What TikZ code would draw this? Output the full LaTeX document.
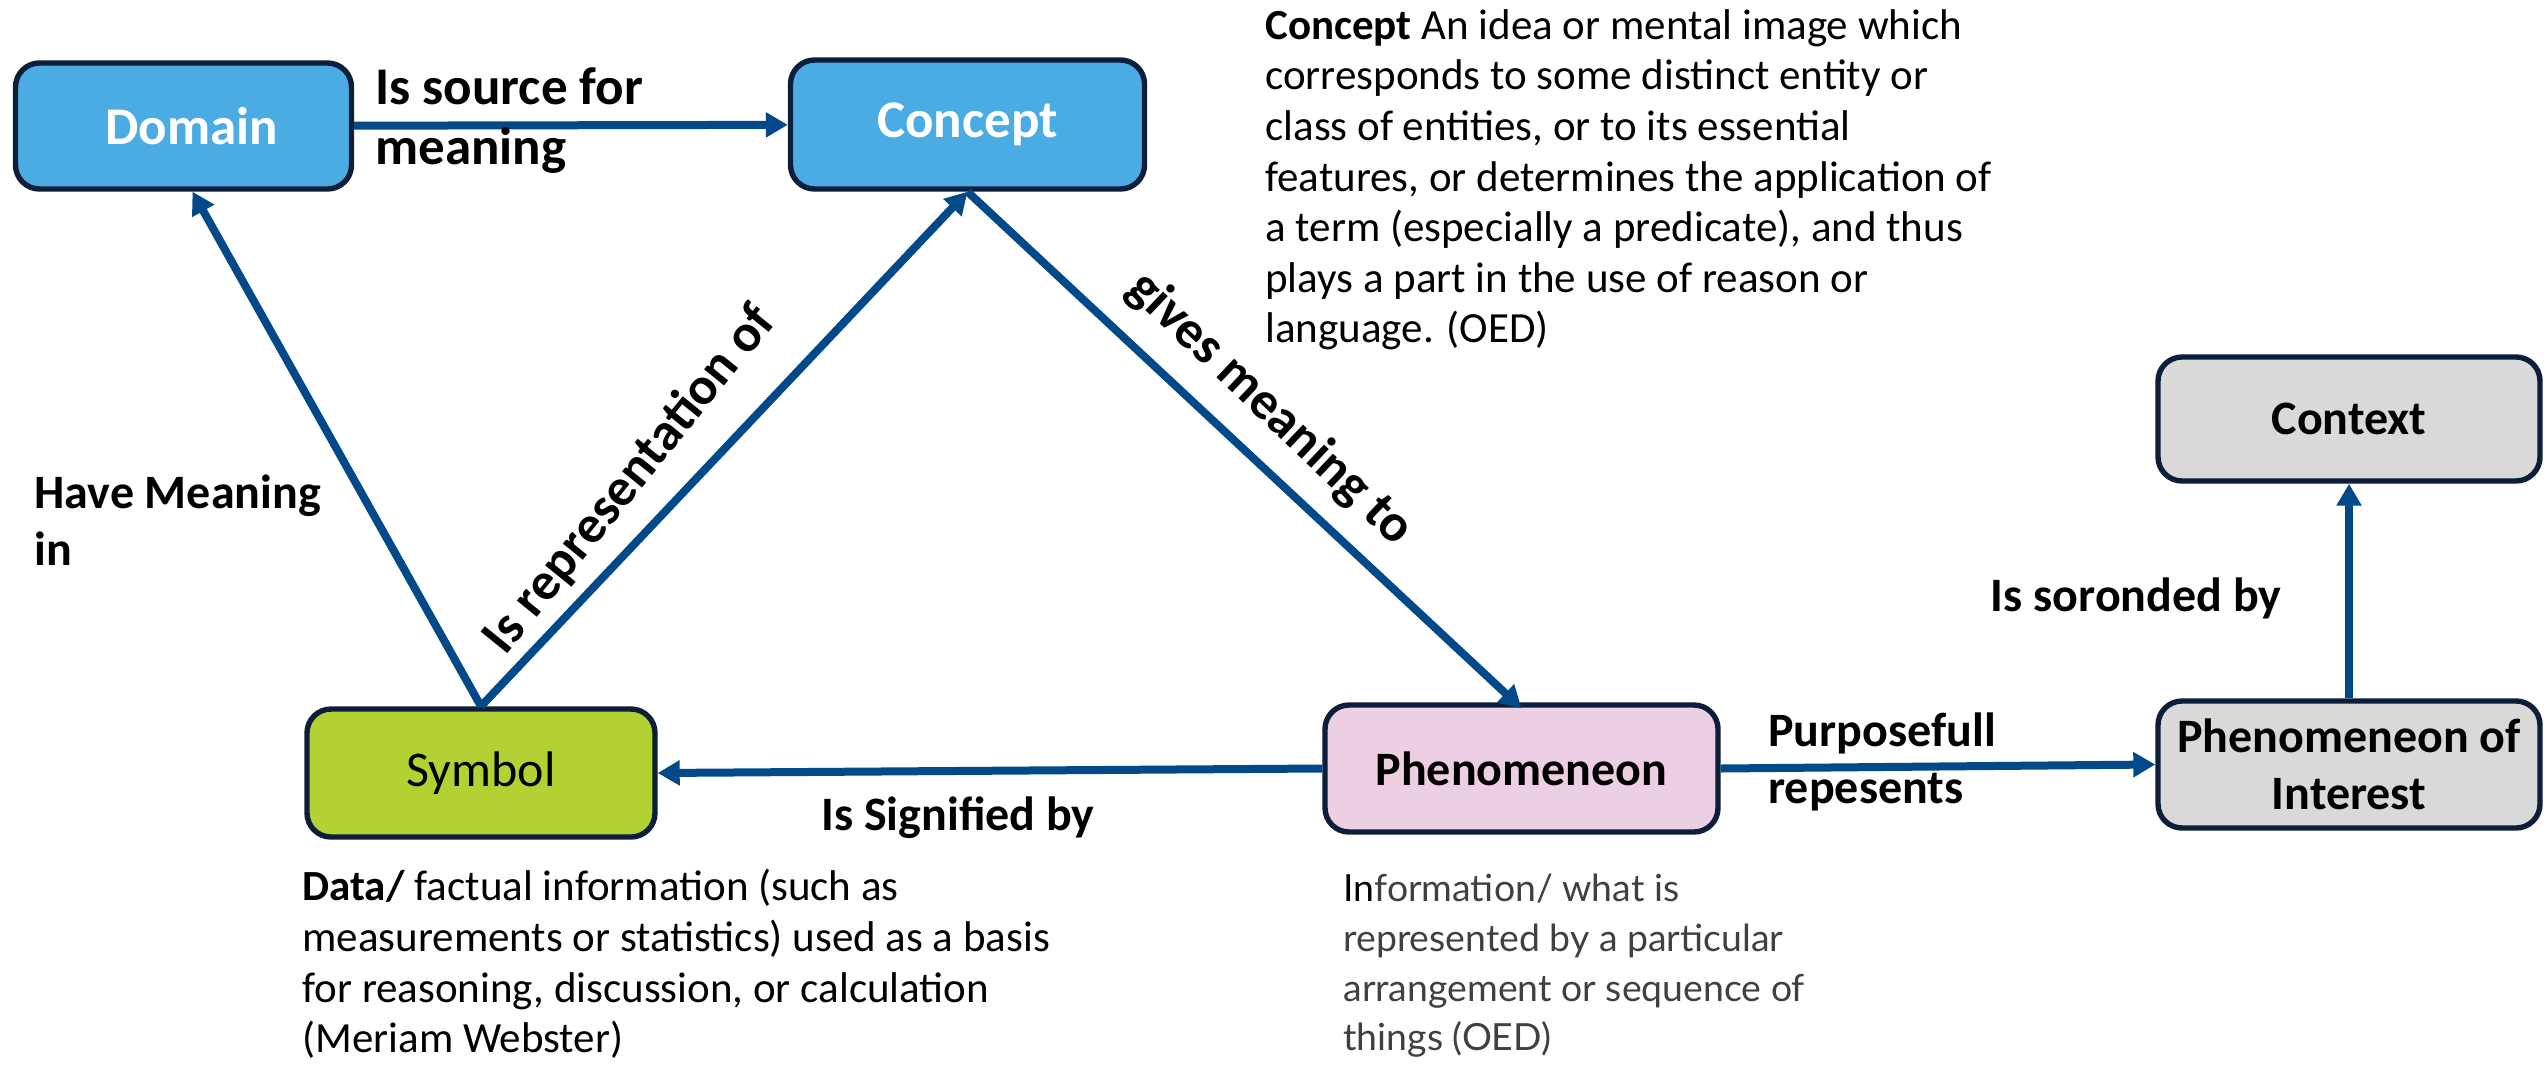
\documentclass[tikz,border=0pt]{standalone}
\usepackage{fontspec}
\setmainfont{Carlito}
\newfontfamily\infofont{Lato}
\usetikzlibrary{arrows.meta}
\definecolor{boxblue}{RGB}{75,172,227}
\definecolor{boxgreen}{RGB}{178,210,51}
\definecolor{boxpink}{RGB}{237,207,227}
\definecolor{boxgray}{RGB}{217,217,217}
\definecolor{bordercol}{RGB}{12,30,58}
\definecolor{arrowcol}{RGB}{2,73,138}
\definecolor{infogray}{RGB}{64,64,64}
\begin{document}
\begin{tikzpicture}[x=0.5pt,y=-0.5pt,
  box/.style={draw=bordercol, line width=2.7pt, rounded corners=12pt, align=center,
    font=\fontsize{24}{28.5}\selectfont\bfseries, inner sep=0pt},
  bigbox/.style={box, font=\fontsize{26.5}{30}\selectfont\bfseries},
  conn/.style={draw=arrowcol, line width=4pt, -{Triangle[length=11pt,width=12pt]}},
  lbl/.style={font=\fontsize{24}{28.5}\selectfont\bfseries, align=left, inner sep=0pt},
  biglbl/.style={font=\fontsize{26.5}{30}\selectfont\bfseries, align=left, inner sep=0pt},
  desc/.style={font=\fontsize{21.5}{25.3}\selectfont, align=left, inner sep=0pt, anchor=north west}]
\useasboundingbox (0,0) rectangle (2547,1066);
% boxes
\node[bigbox, fill=boxblue, text=white, minimum width=168pt, minimum height=63pt] (dom) at (183.5,126) {\hspace*{8pt}Domain};
\node[bigbox, fill=boxblue, text=white, minimum width=177pt, minimum height=64.5pt] (con) at (967.5,124.5) {Concept};
\node[box, fill=boxgreen, font=\fontsize{25}{28.5}\selectfont, minimum width=174pt, minimum height=64pt] (sym) at (481,773) {Symbol};
\node[box, fill=boxpink, minimum width=196.5pt, minimum height=63.5pt] (phe) at (1521.5,768.5) {Phenomeneon};
\node[box, fill=boxgray, minimum width=191pt, minimum height=63.5pt] (poi) at (2349,764.5) {Phenomeneon of\\Interest};
\node[box, fill=boxgray, minimum width=191pt, minimum height=62pt] (ctx) at (2349,419) {Context};
% connectors
\draw[conn] (dom) -- (con);
\draw[conn] (sym.north) -- ([xshift=4.5pt]dom.south);
\draw[conn] (sym.north) -- (con.south);
\draw[conn] (con.south) -- ([yshift=-3pt]phe.north);
\draw[conn] (phe.west) -- (sym.east);
\draw[conn] (phe.east) -- (poi.west);
\draw[conn] (poi) -- (ctx);
% edge labels
\node[biglbl, anchor=west] (l1) at (375,121) {Is source for\\meaning};
\node[lbl, anchor=west] (l2) at (34,520) {Have Meaning\\in};
\node[biglbl, rotate=51] (l3) at (630,480) {Is representation of};
\node[biglbl, rotate=-43.5] (l4) at (1270,409) {gives meaning to};
\node[lbl] (l5) at (958,818) {Is Signified by};
\node[lbl, anchor=west] (l6) at (1768,762) {Purposefull\\repesents};
\node[lbl] (l7) at (2136,598) {Is soronded by};
% descriptions
\node[desc] (d1) at (1265,9) {\textbf{Concept} An idea or mental image which\\
corresponds to some distinct entity or\\
class of entities, or to its essential\\
features, or determines the application of\\
a term (especially a predicate), and thus\\
plays a part in the use of reason or\\
language. (OED)};
\node[desc] (d2) at (302,869) {\textbf{Data/} factual information (such as\\
measurements or statistics) used as a basis\\
for reasoning, discussion, or calculation\\
(Meriam Webster)};
\node[desc, font=\fontsize{18.7}{24.8}\selectfont\infofont, text=infogray] (d3) at (1343,874) {\textcolor{black}{In}formation/ what is\\
represented by a particular\\
arrangement or sequence of\\
things (OED)};
\end{tikzpicture}
\end{document}
